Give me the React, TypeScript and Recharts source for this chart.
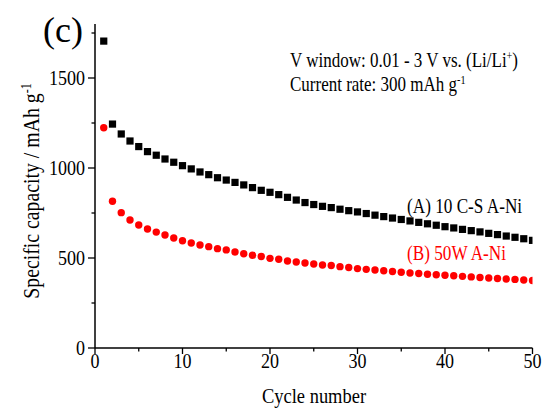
import React from 'react';
import { ScatterChart, Scatter, XAxis, YAxis, Customized } from 'recharts';

const cycles = [
  1, 2, 3, 4, 5, 6, 7, 8, 9, 10, 11, 12, 13, 14, 15, 16, 17, 18, 19, 20, 21, 22, 23, 24, 25,
  26, 27, 28, 29, 30, 31, 32, 33, 34, 35, 36, 37, 38, 39, 40, 41, 42, 43, 44, 45, 46, 47, 48, 49, 50,
];
const capacityA = [
  1705, 1244, 1189, 1150, 1119, 1091, 1071, 1050, 1032, 1013, 995, 978, 963, 946, 933, 920, 906, 891, 876, 865,
  852, 837, 822, 808, 797, 787, 780, 771, 763, 756, 747, 738, 730, 722, 714, 706, 698, 690, 682, 674,
  667, 659, 652, 645, 637, 630, 622, 615, 607, 598,
];
const capacityB = [
  1224, 815, 752, 711, 683, 661, 644, 628, 611, 596, 583, 572, 563, 552, 545, 533, 524, 515, 508, 498,
  493, 483, 478, 472, 467, 461, 458, 452, 447, 441, 437, 433, 429, 425, 421, 417, 414, 410, 407, 404,
  401, 398, 395, 392, 389, 386, 383, 381, 378, 375,
];
const xTicks = [0, 5, 10, 15, 20, 25, 30, 35, 40, 45, 50];
const xLabeled = [0, 10, 20, 30, 40, 50];
const yTicks = [0, 250, 500, 750, 1000, 1250, 1500, 1750];
const yLabeled = [0, 500, 1000, 1500];

const seriesA = cycles.map((c, i) => ({ x: c, y: capacityA[i] }));
const seriesB = cycles.map((c, i) => ({ x: c, y: capacityB[i] }));

const FONT = "'Liberation Serif','Times New Roman',serif";

const T = ({ x, y, size, sx = 1, anchor = 'start', rot = 0, fill = '#000', children }: any) => (
  <text
    transform={`translate(${x},${y}) rotate(${rot}) scale(${sx},1)`}
    fontFamily={FONT}
    fontSize={size}
    textAnchor={anchor}
    fill={fill}
  >
    {children}
  </text>
);

const BottomTick = (p: any) => {
  const v = p.payload.value;
  const major = xLabeled.includes(v);
  return (
    <g>
      <line x1={p.x} y1={p.y} x2={p.x} y2={p.y + (major ? 6 : 3.5)} stroke="#000" strokeWidth={1.3} />
      {major && (
        <T x={p.x} y={p.y + 20} size={22} sx={0.82} anchor="middle">
          {v}
        </T>
      )}
    </g>
  );
};

const TopTick = (p: any) => {
  const v = p.payload.value;
  const major = xLabeled.includes(v);
  return <line x1={p.x} y1={p.y} x2={p.x} y2={p.y - (major ? 5 : 4)} stroke="#000" strokeWidth={1.3} />;
};

const LeftTick = (p: any) => {
  const v = p.payload.value;
  const major = yLabeled.includes(v);
  return (
    <g>
      <line x1={p.x} y1={p.y} x2={p.x - (major ? 7 : 3.5)} y2={p.y} stroke="#000" strokeWidth={1.3} />
      {major && (
        <T x={p.x - 10} y={p.y + 6.5} size={22} sx={0.82} anchor="end">
          {v}
        </T>
      )}
    </g>
  );
};

const RightTick = (p: any) => {
  const v = p.payload.value;
  const major = yLabeled.includes(v);
  return <line x1={p.x} y1={p.y} x2={p.x + (major ? 5 : 4)} y2={p.y} stroke="#000" strokeWidth={1.3} />;
};

const Square = (p: any) => <rect x={p.cx - 3.6} y={p.cy - 3.6} width={7.2} height={7.2} fill="#000" />;
const Dot = (p: any) => <circle cx={p.cx} cy={p.cy} r={3.7} fill="#ff0000" />;

const Texts = () => (
  <g>
    <T x={43} y={42} size={36}>(c)</T>
    <T x={290} y={67} size={20} sx={0.85}>
      V window: 0.01 - 3 V vs. (Li/Li
      <tspan dy={-7} fontSize={12}>+</tspan>
      <tspan dy={7}>)</tspan>
    </T>
    <T x={290} y={91} size={20} sx={0.85}>
      Current rate: 300 mAh g
      <tspan dy={-7} fontSize={12}>-1</tspan>
    </T>
    <T x={407} y={213} size={20} sx={0.86}>(A) 10 C-S A-Ni</T>
    <T x={407} y={260} size={20} sx={0.86} fill="#ff0000">(B) 50W A-Ni</T>
    <T x={314} y={403} size={22} sx={0.84} anchor="middle">Cycle number</T>
    <T x={39} y={191} size={23} sx={0.86} anchor="middle" rot={-90}>
      Specific capacity / mAh g
      <tspan dy={-8} fontSize={14}>-1</tspan>
    </T>
  </g>
);

export default function App() {
  return (
    <div style={{ position: 'absolute', left: 0, top: 0, width: 544, height: 412, background: '#fff' }}>
      <ScatterChart width={544} height={412} margin={{ top: 24, right: 11.5, bottom: 0, left: 0 }}>
        <XAxis
          dataKey="x"
          type="number"
          domain={[0, 50]}
          ticks={xTicks}
          interval={0}
          height={64}
          tickSize={0}
          tickMargin={0}
          tickLine={false}
          axisLine={{ stroke: '#000', strokeWidth: 1.5 }}
          tick={(p: any) => <BottomTick {...p} />}
          allowDataOverflow
        />
        <XAxis
          xAxisId="top"
          orientation="top"
          type="number"
          domain={[0, 50]}
          ticks={xTicks}
          interval={0}
          height={0}
          tickSize={0}
          tickMargin={0}
          tickLine={false}
          axisLine={{ stroke: '#000', strokeWidth: 1.5 }}
          tick={(p: any) => <TopTick {...p} />}
          allowDataOverflow
        />
        <YAxis
          dataKey="y"
          type="number"
          domain={[0, 1800]}
          ticks={yTicks}
          interval={0}
          width={95}
          tickSize={0}
          tickMargin={0}
          tickLine={false}
          axisLine={{ stroke: '#000', strokeWidth: 1.5 }}
          tick={(p: any) => <LeftTick {...p} />}
          allowDataOverflow
        />
        <YAxis
          yAxisId="right"
          orientation="right"
          type="number"
          domain={[0, 1800]}
          ticks={yTicks}
          interval={0}
          width={0}
          tickSize={0}
          tickMargin={0}
          tickLine={false}
          axisLine={{ stroke: '#000', strokeWidth: 1.5 }}
          tick={(p: any) => <RightTick {...p} />}
          allowDataOverflow
        />
        <Scatter data={seriesA} shape={(p: any) => <Square {...p} />} isAnimationActive={false} />
        <Scatter data={seriesB} shape={(p: any) => <Dot {...p} />} isAnimationActive={false} />
        <Customized component={() => <Texts />} />
      </ScatterChart>
    </div>
  );
}
